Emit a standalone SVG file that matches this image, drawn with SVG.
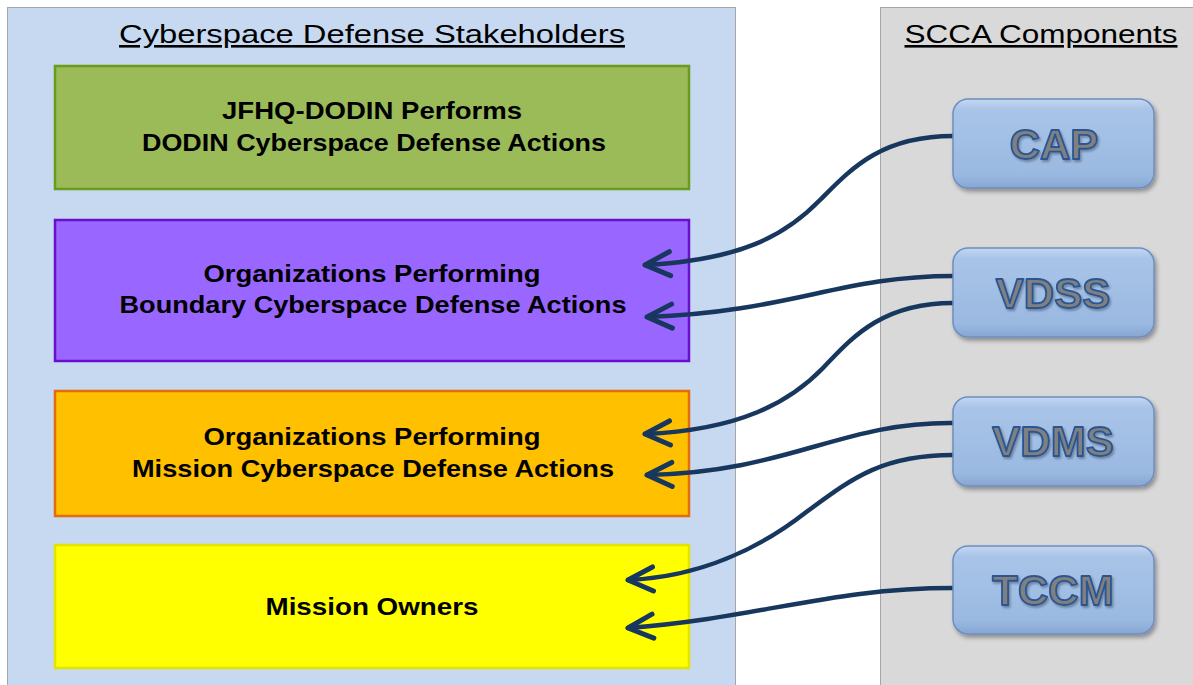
<svg xmlns="http://www.w3.org/2000/svg" width="1193" height="685" viewBox="0 0 1193 685">
<style>
.panel{stroke:#a6a6a6;stroke-width:1}
.hdr{font-family:"Liberation Sans",Arial,sans-serif;font-size:26px;fill:#000;text-decoration:underline}
.box{stroke-width:2.5}
.lbl{font-family:"Liberation Sans",Arial,sans-serif;font-size:24px;font-weight:bold;fill:#000;text-anchor:middle}
.comp{fill:url(#cg);stroke:#6d8fc0;stroke-width:1.5;filter:url(#sh)}
.ctxt{font-family:"Liberation Sans",Arial,sans-serif;font-size:42px;font-weight:bold;fill:#808080;stroke:#2a5590;stroke-width:1.8;stroke-linejoin:round;text-anchor:middle;filter:url(#ts)}
.conn{fill:none;stroke:#17375e;stroke-width:4.5;stroke-linecap:round;marker-end:url(#ah)}
</style>
<defs>
<linearGradient id="cg" x1="0" y1="0" x2="0" y2="1">
<stop offset="0" stop-color="#c3d7f1"/>
<stop offset="0.12" stop-color="#a9c4e8"/>
<stop offset="0.85" stop-color="#9ab9e1"/>
<stop offset="1" stop-color="#86a6d2"/>
</linearGradient>
<filter id="sh" x="-10%" y="-10%" width="125%" height="135%">
<feDropShadow dx="2" dy="3" stdDeviation="2" flood-color="#000" flood-opacity="0.35"/>
</filter>
<filter id="ts" x="-10%" y="-20%" width="125%" height="145%">
<feDropShadow dx="1.5" dy="2" stdDeviation="1.2" flood-color="#000" flood-opacity="0.3"/>
</filter>
<marker id="ah" markerUnits="userSpaceOnUse" markerWidth="40" markerHeight="40" refX="0" refY="0" orient="auto" viewBox="-30 -20 40 40" overflow="visible">
<path d="M-25,-12 L0,0 L-25,12" fill="none" stroke="#17375e" stroke-width="5" stroke-linecap="round" stroke-linejoin="round"/>
</marker>
</defs>
<rect width="1193" height="685" fill="#ffffff"/>
<g id="stakeholders-panel">
<rect class="panel" x="7.5" y="7.5" width="728" height="690" fill="#c6d9f0"/>
<text class="hdr" x="372" y="43" text-anchor="middle" textLength="506" lengthAdjust="spacingAndGlyphs">Cyberspace Defense Stakeholders</text>
</g>
<g id="components-panel">
<rect class="panel" x="880.5" y="7.5" width="320" height="690" fill="#d9d9d9"/>
<text class="hdr" x="1041" y="43" text-anchor="middle" textLength="273" lengthAdjust="spacingAndGlyphs">SCCA Components</text>
</g>
<g id="jfhq">
<rect class="box" x="55" y="66" width="634" height="123" fill="#9bbb59" stroke="#6a9c1c"/>
<text class="lbl" x="372" y="119" textLength="300" lengthAdjust="spacingAndGlyphs">JFHQ-DODIN Performs</text>
<text class="lbl" x="374" y="151" textLength="464" lengthAdjust="spacingAndGlyphs">DODIN Cyberspace Defense Actions</text>
</g>
<g id="boundary">
<rect class="box" x="55" y="220" width="634" height="141" fill="#9966ff" stroke="#6a0fcc"/>
<text class="lbl" x="372" y="282" textLength="337" lengthAdjust="spacingAndGlyphs">Organizations Performing</text>
<text class="lbl" x="373" y="313" textLength="507" lengthAdjust="spacingAndGlyphs">Boundary Cyberspace Defense Actions</text>
</g>
<g id="mission">
<rect class="box" x="55" y="391" width="634" height="125" fill="#ffc000" stroke="#e46c0a"/>
<text class="lbl" x="372" y="445" textLength="337" lengthAdjust="spacingAndGlyphs">Organizations Performing</text>
<text class="lbl" x="373" y="477" textLength="482" lengthAdjust="spacingAndGlyphs">Mission Cyberspace Defense Actions</text>
</g>
<g id="owners">
<rect class="box" x="55" y="545" width="634" height="123" fill="#ffff00" stroke="#e3e300"/>
<text class="lbl" x="372" y="615" textLength="213" lengthAdjust="spacingAndGlyphs">Mission Owners</text>
</g>
<g id="connectors">
<path class="conn" d="M953,136 C880,136 850,170 820,200 C785,236 740,260 645,265"/>
<path class="conn" d="M953,276 C840,276 790,312 647,317"/>
<path class="conn" d="M953,303 C880,303 850,340 823,368 C790,402 740,430 645,434"/>
<path class="conn" d="M953,423 C840,422 790,472 647,475"/>
<path class="conn" d="M953,455 C880,455 850,480 805,513 C760,548 700,577 628,580"/>
<path class="conn" d="M953,588 C830,588 760,618 628,628"/>
</g>
<g id="cap">
<rect class="comp" x="953" y="99" width="201" height="89" rx="15"/>
<text class="ctxt" x="1054" y="159">CAP</text>
</g>
<g id="vdss">
<rect class="comp" x="953" y="248" width="201" height="89" rx="15"/>
<text class="ctxt" x="1053" y="308">VDSS</text>
</g>
<g id="vdms">
<rect class="comp" x="953" y="397" width="201" height="89" rx="15"/>
<text class="ctxt" x="1053" y="456">VDMS</text>
</g>
<g id="tccm">
<rect class="comp" x="953" y="546" width="201" height="88" rx="15"/>
<text class="ctxt" x="1053" y="605">TCCM</text>
</g>
</svg>
